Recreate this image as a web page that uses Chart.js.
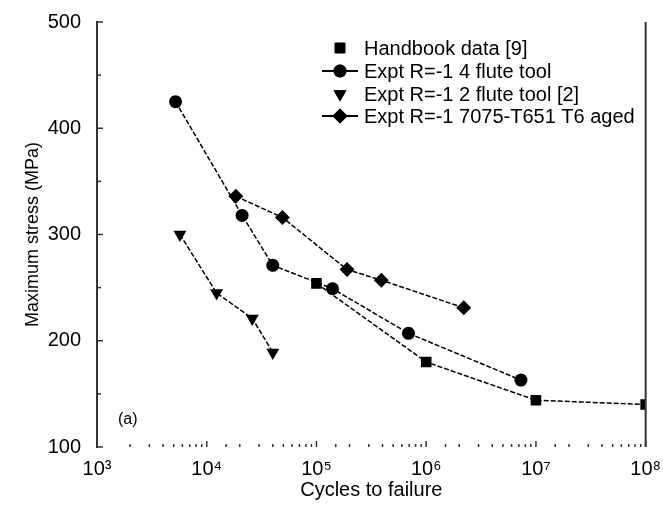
<!DOCTYPE html>
<html>
<head>
<meta charset="utf-8">
<script src="https://cdn.jsdelivr.net/npm/chart.js@4.4.1/dist/chart.umd.min.js"></script>
<style>
  html, body { margin: 0; padding: 0; background: #fff; }
  #wrap { width: 663px; height: 520px; }
</style>
</head>
<body>
<div id="wrap"><canvas id="sn" width="663" height="520"></canvas></div>
<script>
// cycles to failure / max stress (MPa)
var handbookN = [1e5, 1e6, 1e7, 1e8];
var handbookS = [254, 180, 144, 140];
var flute4N = [5200, 21000, 40000, 140000, 690000, 7300000];
var flute4S = [425, 318, 271, 249, 207, 163];
var flute2N = [5700, 12300, 26000, 40000];
var flute2S = [300, 245, 221, 189];
var agedN = [18400, 49000, 190000, 390000, 2200000];
var agedS = [336, 316, 267, 257, 231];

var seriesLabels = [
    'Handbook data [9]',
    'Expt R=-1 4 flute tool',
    'Expt R=-1 2 flute tool [2]',
    'Expt R=-1 7075-T651 T6 aged'
];
var supers = { 3: '\u00b3', 4: '\u2074', 5: '\u2075', 6: '\u2076', 7: '\u2077', 8: '\u2078' };
var FONT = '"Liberation Sans", Arial, sans-serif';

function pts(n, s) {
    var out = [];
    for (var i = 0; i < n.length; i++) out.push({ x: n[i], y: s[i] });
    return out;
}

function ds(label, n, s, style, r, rot) {
    return {
        label: label,
        data: pts(n, s),
        borderColor: '#000',
        backgroundColor: '#000',
        borderWidth: 1.5,
        borderDash: [5, 2],
        pointStyle: style,
        pointRadius: r,
        pointRotation: rot || 0,
        pointBorderWidth: 0,
        tension: 0
    };
}

// legend: marker only for rows 0 and 2, line + marker for 1 and 3
var legendPlugin = {
    id: 'snLegend',
    afterDraw: function(chart) {
        var ctx = chart.ctx;
        var rows = [48, 71, 94, 116];
        var withLine = [false, true, false, true];
        ctx.save();
        ctx.font = '20px ' + FONT;
        ctx.fillStyle = '#000';
        ctx.textBaseline = 'middle';
        chart.data.datasets.forEach(function(d, i) {
            var y = rows[i];
            if (withLine[i]) {
                ctx.strokeStyle = '#000';
                ctx.lineWidth = 2;
                ctx.setLineDash([]);
                ctx.beginPath();
                ctx.moveTo(322, y);
                ctx.lineTo(358, y);
                ctx.stroke();
            }
            Chart.helpers.drawPoint(ctx, {
                pointStyle: d.pointStyle, radius: d.pointRadius, rotation: d.pointRotation, borderWidth: 0
            }, 340, y);
            ctx.fillStyle = '#000';
            ctx.fill();
            ctx.fillText(d.label, 364, y + 1);
        });
        ctx.restore();
    }
};

// right axis line, inward ticks, panel tag
var framePlugin = {
    id: 'snFrame',
    afterDraw: function(chart) {
        var ctx = chart.ctx, a = chart.chartArea;
        var xs = chart.scales.x, ys = chart.scales.y;
        ctx.save();
        ctx.strokeStyle = '#333';
        ctx.lineWidth = 2;
        ctx.beginPath();
        ctx.moveTo(a.right, a.top);
        ctx.lineTo(a.right, a.bottom);
        ctx.stroke();

        ctx.lineWidth = 1.5;
        ys.ticks.forEach(function(t) {
            var py = ys.getPixelForValue(t.value);
            var len = t.value % 100 === 0 ? 6 : 4;
            ctx.beginPath();
            ctx.moveTo(a.left, py);
            ctx.lineTo(a.left + len, py);
            ctx.stroke();
        });
        xs.ticks.forEach(function(t) {
            var px = xs.getPixelForValue(t.value);
            var major = Math.abs(Math.log10(t.value) % 1) < 1e-6;
            ctx.beginPath();
            ctx.moveTo(px, a.bottom);
            ctx.lineTo(px, a.bottom - (major ? 6 : 3));
            ctx.stroke();
        });

        ctx.font = '16px ' + FONT;
        ctx.fillStyle = '#000';
        ctx.textBaseline = 'middle';
        ctx.fillText('(a)', 118, 420);
        ctx.restore();
    }
};

new Chart(document.getElementById('sn'), {
    type: 'line',
    data: {
        datasets: [
            ds(seriesLabels[0], handbookN, handbookS, 'rect', 7.5),
            ds(seriesLabels[1], flute4N, flute4S, 'circle', 6.5),
            ds(seriesLabels[2], flute2N, flute2S, 'triangle', 7.5, 180),
            ds(seriesLabels[3], agedN, agedS, 'rectRot', 7.5)
        ]
    },
    options: {
        responsive: false,
        devicePixelRatio: 1,
        animation: false,
        layout: { padding: { top: 22, right: 16, left: 0, bottom: 0 } },
        plugins: { legend: { display: false }, tooltip: { enabled: false } },
        scales: {
            x: {
                type: 'logarithmic',
                min: 1e3,
                max: 1e8,
                grid: { display: false },
                border: { display: false },
                ticks: {
                    autoSkip: false,
                    maxRotation: 0,
                    padding: 2,
                    color: '#000',
                    font: { family: FONT, size: 20 },
                    callback: function(v) {
                        var e = Math.round(Math.log10(v));
                        return Math.abs(Math.log10(v) - e) < 1e-6 ? '10' + supers[e] : '';
                    }
                },
                title: {
                    display: true,
                    text: 'Cycles to failure',
                    color: '#000',
                    font: { family: FONT, size: 20 },
                    padding: { top: 0, bottom: 18 }
                },
                afterFit: function(s) { s.height = 73; }
            },
            y: {
                min: 100,
                max: 500,
                grid: { display: false },
                border: { display: true, color: '#333', width: 2 },
                ticks: {
                    stepSize: 50,
                    padding: 8,
                    color: '#000',
                    font: { family: FONT, size: 20 },
                    callback: function(v) { return v % 100 === 0 ? v : ''; }
                },
                title: {
                    display: true,
                    text: 'Maximum stress (MPa)',
                    color: '#000',
                    font: { family: FONT, size: 18 },
                    padding: { top: 22, bottom: 0 }
                },
                afterFit: function(s) { s.width = 97; }
            }
        }
    },
    plugins: [legendPlugin, framePlugin]
});
</script>
</body>
</html>
